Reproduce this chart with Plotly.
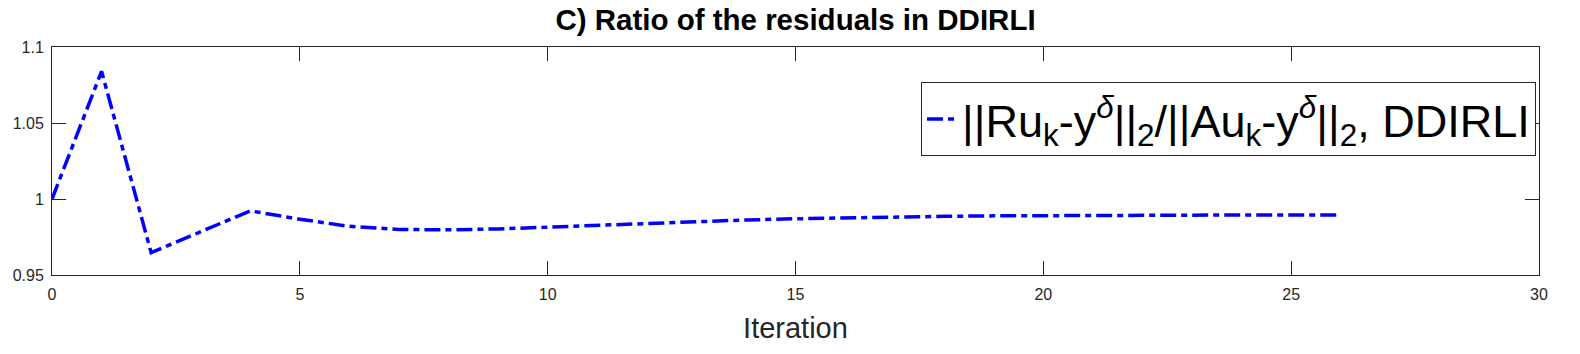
import plotly.graph_objects as go

iterations = list(range(0, 27))
ratio = [1.0, 1.084, 0.9647, 0.9785, 0.9922, 0.9867, 0.9820, 0.9800, 0.9797, 0.9803,
         0.9815, 0.9828, 0.9840, 0.9852, 0.9862, 0.9870, 0.9877, 0.9882, 0.9886, 0.9889,
         0.9891, 0.9893, 0.9894, 0.9895, 0.9895, 0.9895, 0.9895]

x_ticks = [0, 5, 10, 15, 20, 25, 30]
y_ticks = [0.95, 1.0, 1.05, 1.1]
y_tick_text = ["0.95", "1", "1.05", "1.1"]

title_text = "C) Ratio of the residuals in DDIRLI"
x_label = "Iteration"
legend_name = "||Ru<sub>k</sub>-y<sup><i>δ</i></sup>||<sub>2</sub>/||Au<sub>k</sub>-y<sup><i>δ</i></sup>||<sub>2</sub>, DDIRLI"

axis_color = "#262626"
font_family = "Liberation Sans, Arial, sans-serif"

fig = go.Figure()
fig.add_trace(go.Scatter(
    x=iterations, y=ratio, mode="lines", name=legend_name,
    line=dict(color="#0000FF", width=3.5, dash="16px,5px,6px,5px"),
))

fig.update_layout(
    width=1580, height=354,
    margin=dict(l=52, r=41, t=47, b=79, autoexpand=False),
    paper_bgcolor="white", plot_bgcolor="white",
    font=dict(family=font_family, color=axis_color),
    title=dict(text="<b>" + title_text + "</b>", x=0.5, xanchor="center",
               xref="paper", y=0.975, yanchor="top",
               font=dict(size=29.5, color="black", family=font_family)),
    showlegend=True,
    legend=dict(x=0.998, y=0.845, xanchor="right", yanchor="top",
                bgcolor="white", bordercolor=axis_color, borderwidth=1,
                font=dict(size=45, color="black", family=font_family),
                itemwidth=30),
)
fig.update_xaxes(
    range=[0, 30], tickvals=x_ticks, ticks="inside", ticklen=14,
    tickcolor=axis_color, showline=True, linecolor=axis_color, linewidth=1,
    mirror="ticks", showgrid=False, zeroline=False, automargin=False,
    tickfont=dict(size=16, color=axis_color), ticklabelstandoff=5,
    title=dict(text=x_label, font=dict(size=29, color=axis_color), standoff=15),
)
fig.update_yaxes(
    range=[0.95, 1.1], tickvals=y_ticks, ticktext=y_tick_text, ticks="inside",
    ticklen=14, tickcolor=axis_color, showline=True, linecolor=axis_color,
    linewidth=1, mirror="ticks", showgrid=False, zeroline=False, automargin=False,
    tickfont=dict(size=16, color=axis_color), ticklabelstandoff=4,
)

fig.write_html(
    "out.html",
    config={"displayModeBar": False},
    post_script="document.body.style.margin='0';document.body.style.padding='0';",
)
